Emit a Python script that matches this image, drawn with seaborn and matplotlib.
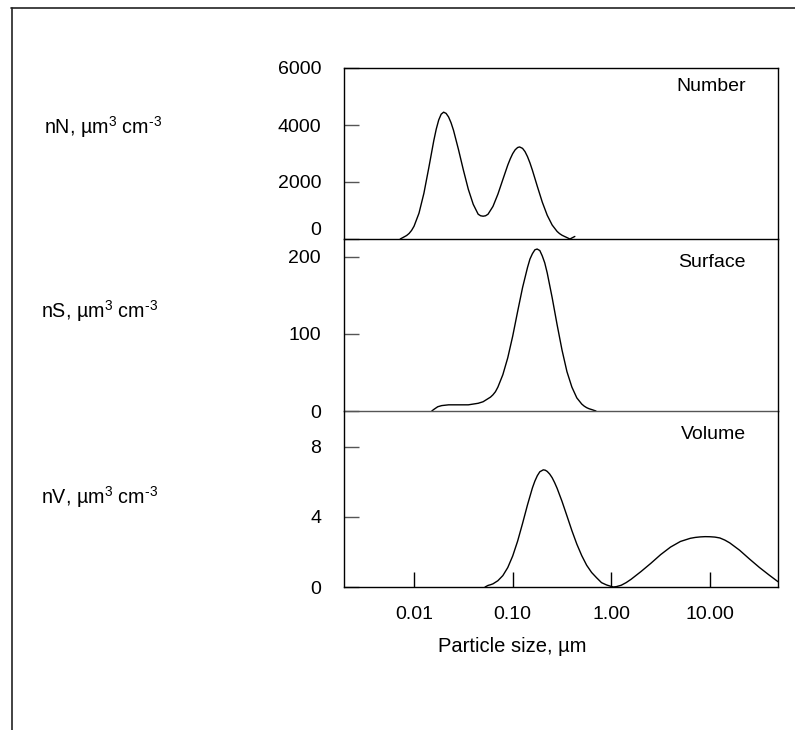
import numpy as np
import pandas as pd
import matplotlib
matplotlib.use("Agg")
import matplotlib.pyplot as plt
from matplotlib.lines import Line2D
from matplotlib.ticker import NullLocator
import seaborn as sns

# Aerosol size distributions: log10 of particle diameter (µm) and the
# number, surface and volume distribution values at those diameters.
number_logd = [-2.14, -2.10, -2.075, -2.05, -2.025, -2.00, -1.95, -1.90, -1.85,
               -1.80, -1.775, -1.75, -1.725, -1.70, -1.675, -1.65, -1.625,
               -1.60, -1.55, -1.50, -1.45, -1.40, -1.35, -1.325, -1.30, -1.275,
               -1.25, -1.20, -1.15, -1.10, -1.05, -1.025, -1.00, -0.975, -0.95,
               -0.93, -0.90, -0.875, -0.85, -0.825, -0.80, -0.75, -0.70, -0.65,
               -0.60, -0.55, -0.525, -0.50, -0.475, -0.45, -0.42, -0.37]
number_vals = [0, 75, 123, 195, 301, 448, 904, 1605, 2507,
               3449, 3855, 4175, 4379, 4450, 4407, 4282, 4080,
               3815, 3145, 2422, 1746, 1217, 870, 815, 800, 815,
               870, 1143, 1572, 2085, 2593, 2810, 2995, 3130, 3210,
               3230, 3180, 3066, 2891, 2670, 2411, 1843, 1293, 833,
               491, 266, 189, 132, 90, 50, 0, 90]

surface_logd = [-1.82, -1.80, -1.76, -1.72, -1.65, -1.55, -1.45, -1.40, -1.35,
                -1.30, -1.25, -1.225, -1.20, -1.175, -1.15, -1.10, -1.05, -1.00,
                -0.95, -0.90, -0.85, -0.825, -0.80, -0.775, -0.752, -0.725,
                -0.70, -0.675, -0.65, -0.60, -0.55, -0.50, -0.45, -0.40, -0.35,
                -0.30, -0.275, -0.25, -0.225, -0.20, -0.156]
surface_vals = [0, 2, 5.5, 7, 8, 8, 8, 9, 10,
                12, 16, 18, 21, 25, 31, 47, 69, 97,
                129, 160, 186, 197, 204, 209, 210, 208,
                201, 192, 179, 147, 112, 79, 51, 31, 17,
                9, 6.3, 4.3, 2.9, 1.9, 0]

volume_logd = [-1.28, -1.25, -1.225, -1.20, -1.15, -1.10, -1.05, -1.00, -0.95,
               -0.90, -0.85, -0.80, -0.775, -0.75, -0.725, -0.69, -0.67, -0.65,
               -0.625, -0.60, -0.575, -0.55, -0.50, -0.45, -0.40, -0.35, -0.30,
               -0.25, -0.20, -0.15, -0.10, -0.05, 0.00, 0.02, 0.05, 0.10,
               0.15, 0.20, 0.30, 0.40, 0.50, 0.60, 0.70, 0.80, 0.85,
               0.90, 0.95, 1.00, 1.05, 1.10, 1.15, 1.20, 1.30, 1.40,
               1.50, 1.60, 1.69]
volume_vals = [0, 0.09, 0.13, 0.18, 0.36, 0.65, 1.11, 1.77, 2.62,
               3.63, 4.69, 5.66, 6.05, 6.36, 6.58, 6.69, 6.67, 6.60,
               6.45, 6.24, 5.96, 5.64, 4.89, 4.06, 3.22, 2.45, 1.79,
               1.24, 0.83, 0.53, 0.25, 0.12, 0.03, 0.0, 0.02, 0.10,
               0.25, 0.44, 0.88, 1.35, 1.85, 2.28, 2.60, 2.78, 2.83,
               2.86, 2.875, 2.87, 2.85, 2.80, 2.68, 2.52, 2.10, 1.60,
               1.12, 0.68, 0.30]

panel_names = ["Number", "Surface", "Volume"]
panel_ylabels = ["nN, µm$^{3}$ cm$^{\\text{-3}}$",
                 "nS, µm$^{3}$ cm$^{\\text{-3}}$",
                 "nV, µm$^{3}$ cm$^{\\text{-3}}$"]
y_ticks = [[0, 2000, 4000, 6000], [0, 100, 200], [0, 4, 8]]
y_limits = [(0, 6000), (0, 223), (0, 10.05)]
x_ticks = [0.01, 0.1, 1, 10]
x_ticklabels = ["0.01", "0.10", "1.00", "10.00"]
x_limits = (0.00195, 48.9)
x_title = "Particle size, µm"

sns.set_theme(style="white")
plt.rcParams["font.family"] = ["Liberation Sans", "DejaVu Sans"]
plt.rcParams["mathtext.fontset"] = "custom"
plt.rcParams["mathtext.rm"] = "Liberation Sans"
plt.rcParams["mathtext.default"] = "regular"

W, H = 795, 730
fig = plt.figure(figsize=(W / 100, H / 100), dpi=100)
fig.patch.set_facecolor("white")


def px_box(left, top, right, bottom):
    return [left / W, 1 - bottom / H, (right - left) / W, (bottom - top) / H]


boxes = [(344, 68, 778, 239), (344, 239, 778, 411), (344, 411, 778, 587)]
series = [(number_logd, number_vals), (surface_logd, surface_vals),
          (volume_logd, volume_vals)]
label_pos = [(44, 127), (41, 311), (41, 497)]
title_y = [0.889, 0.866, 0.869]

axes = []
for i, (box, (logd, vals)) in enumerate(zip(boxes, series)):
    ax = fig.add_axes(px_box(*box))
    ax.patch.set_visible(False)
    df = pd.DataFrame({"diameter": 10 ** np.asarray(logd, dtype=float),
                       "value": vals})
    sns.lineplot(data=df, x="diameter", y="value", ax=ax,
                 color="black", linewidth=1.0, sort=False)
    ax.set_xscale("log")
    ax.set_xlim(*x_limits)
    ax.set_ylim(*y_limits[i])
    ax.set_xlabel("")
    ax.set_ylabel("")
    ax.set_yticks(y_ticks[i])
    ax.set_yticklabels([str(t) for t in y_ticks[i]])
    ax.tick_params(axis="y", which="both", direction="in", length=11,
                   width=1.0, color="#555555", pad=16.5, labelsize=14,
                   labelcolor="black", left=True)
    ax.xaxis.set_minor_locator(NullLocator())
    for side in ["left", "right", "bottom", "top"]:
        ax.spines[side].set_color("black")
        ax.spines[side].set_linewidth(1.0)
        ax.spines[side].set_zorder(5)
    if i > 0:
        ax.spines["top"].set_visible(False)
    if i == 1:
        ax.spines["bottom"].set_color("#555555")
    if i < 2:
        ax.tick_params(axis="x", which="both", bottom=False,
                       labelbottom=False)
    else:
        ax.set_xticks(x_ticks)
        ax.set_xticklabels(x_ticklabels)
        ax.tick_params(axis="x", which="both", direction="in", length=11,
                       width=1.0, color="black", pad=14, labelsize=14,
                       labelcolor="black", bottom=True)
        ax.set_xlabel(x_title, fontsize=14.5, color="black")
        ax.xaxis.set_label_coords((512 - 344) / 434, (587 - 646) / 176)
        ax.xaxis.label.set_verticalalignment("center")
    ax.text(0.926, title_y[i], panel_names[i], transform=ax.transAxes,
            ha="right", va="center", fontsize=14, color="black")
    lx, ly = label_pos[i]
    fig.text(lx / W, 1 - ly / H, panel_ylabels[i], ha="left", va="center",
             fontsize=14.2, color="black")
    axes.append(ax)

# lift the zero label of the top panel clear of the panel below
axes[0].get_yticklabels()[0].set_verticalalignment("bottom")

# outer frame edges (top and left)
fig.add_artist(Line2D([11 / W, 1.0], [1 - 8 / H, 1 - 8 / H],
                      transform=fig.transFigure, color="#222222", lw=1.2))
fig.add_artist(Line2D([11.5 / W, 11.5 / W], [1 - 8 / H, 0.0],
                      transform=fig.transFigure, color="#222222", lw=1.2))

fig.savefig("out.png", dpi=100, facecolor="white")
